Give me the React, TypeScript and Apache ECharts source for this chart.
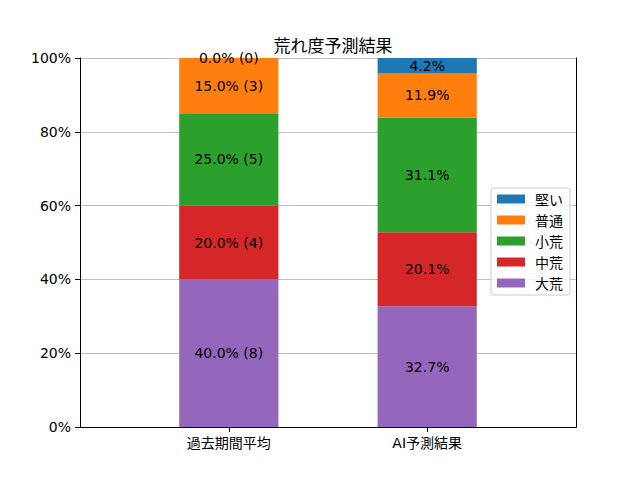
import React, { useEffect, useRef } from "react";
import * as echarts from "echarts";

const categories = ["", "過去期間平均", "", "AI予測結果", ""];
const seriesNames = ["大荒", "中荒", "小荒", "普通", "堅い"];
const colors = ["#9467bd", "#d62728", "#2ca02c", "#ff7f0e", "#1f77b4"];
const legendOrder = ["堅い", "普通", "小荒", "中荒", "大荒"];
const yTicks = [0, 20, 40, 60, 80, 100];

// values [過去期間平均, AI予測結果] per series (percent)
const daiko = [40.0, 32.7];
const chuko = [20.0, 20.1];
const shoko = [25.0, 31.1];
const futsu = [15.0, 11.9];
const katai = [0.0, 4.2];

const daikoLabels = ["40.0% (8)", "32.7%"];
const chukoLabels = ["20.0% (4)", "20.1%"];
const shokoLabels = ["25.0% (5)", "31.1%"];
const futsuLabels = ["15.0% (3)", "11.9%"];
const kataiLabels = ["0.0% (0)", "4.2%"];

const valueSets = [daiko, chuko, shoko, futsu, katai];
const labelSets = [daikoLabels, chukoLabels, shokoLabels, futsuLabels, kataiLabels];

const FONT = "'DejaVu Sans', 'Noto Sans CJK JP', sans-serif";
const CJK = "'Noto Sans CJK JP', 'DejaVu Sans', sans-serif";

export default function App() {
  const ref = useRef<HTMLDivElement>(null);
  useEffect(() => {
    if (!ref.current) return;
    const chart = echarts.init(ref.current, undefined, { renderer: "svg" });
    const toCat = (vals: number[]) => [null, vals[0], null, vals[1], null];
    const labToCat = (labs: string[]) => ["", labs[0], "", labs[1], ""];
    const series = seriesNames.map((name, i) => {
      const labs = labToCat(labelSets[i]);
      return {
        name,
        type: "bar",
        stack: "total",
        barWidth: "100%",
        data: toCat(valueSets[i]),
        itemStyle: { color: colors[i] },
        label: {
          show: true,
          position: "inside",
          color: "#000",
          fontFamily: FONT,
          fontSize: 14,
          formatter: (p: any) => labs[p.dataIndex],
        },
        z: 3,
      };
    });
    chart.setOption({
      animation: false,
      title: {
        text: "荒れ度予測結果",
        left: 328,
        textAlign: "center",
        top: 31,
        textStyle: { fontFamily: CJK, fontSize: 17, fontWeight: "normal", color: "#000" },
      },
      grid: { left: 80, right: 64, top: 58, bottom: 53, containLabel: false, outerBoundsMode: "none" },
      legend: {
        data: legendOrder,
        orient: "vertical",
        left: 491,
        top: 188,
        icon: "rect",
        itemWidth: 28,
        itemHeight: 9,
        itemGap: 7,
        padding: [4, 7, 5, 6],
        backgroundColor: "rgba(255,255,255,0.8)",
        borderColor: "#cccccc",
        borderWidth: 1,
        borderRadius: 3,
        textStyle: { fontFamily: CJK, fontSize: 14, color: "#000", lineHeight: 14, padding: [0, 0, 0, 5] },
      },
      xAxis: [
        {
          type: "category",
          data: categories,
          boundaryGap: true,
          axisLine: { lineStyle: { color: "#000", width: 1 } },
          axisTick: {
            show: true,
            alignWithLabel: true,
            length: 5,
            interval: (i: number) => categories[i] !== "",
            lineStyle: { color: "#000" },
          },
          axisLabel: { interval: 0, margin: 9, color: "#000", fontFamily: FONT, fontSize: 14 },
          splitLine: { show: false },
          z: 5,
        },
        {
          type: "category",
          data: categories,
          position: "top",
          axisLine: { lineStyle: { color: "#000", width: 1 } },
          axisTick: { show: false },
          axisLabel: { show: false },
          z: 5,
        },
      ],
      yAxis: [
        {
          type: "value",
          min: 0,
          max: 100,
          interval: 20,
          axisLine: { show: true, lineStyle: { color: "#000", width: 1 } },
          axisTick: { show: true, length: 5, lineStyle: { color: "#000" } },
          axisLabel: {
            margin: 9,
            color: "#000",
            fontFamily: FONT,
            fontSize: 14,
            formatter: (v: number) => (yTicks.includes(v) ? `${v}%` : ""),
          },
          splitLine: { show: true, lineStyle: { color: "#b0b0b0", width: 0.8 } },
          z: 1,
        },
        {
          type: "value",
          min: 0,
          max: 100,
          interval: 20,
          position: "right",
          axisLine: { show: true, lineStyle: { color: "#000", width: 1 } },
          axisTick: { show: false },
          axisLabel: { show: false },
          splitLine: { show: false },
          z: 5,
        },
      ],
      series,
    });
    return () => chart.dispose();
  }, []);
  return (
    <div
      ref={ref}
      style={{ position: "fixed", left: 0, top: 0, width: 640, height: 480, background: "#fff" }}
    />
  );
}
